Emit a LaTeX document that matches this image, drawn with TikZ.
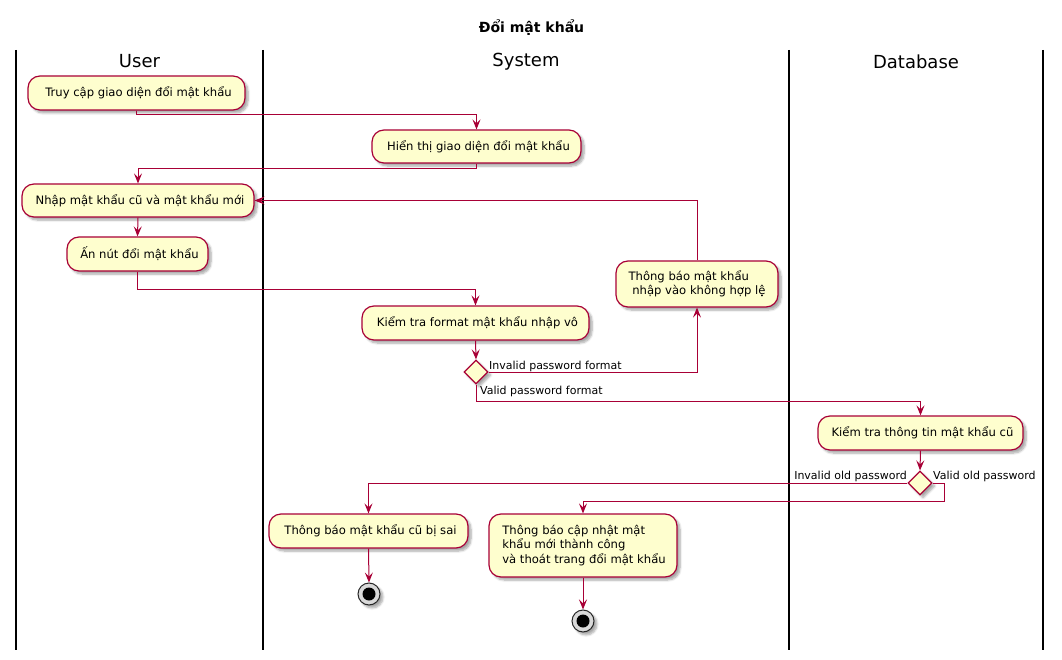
\documentclass[tikz,border=0pt]{standalone}
\usepackage{fontspec}
\setmainfont{DejaVu Sans}
\usetikzlibrary{arrows.meta,shapes.geometric,shadows.blur,calc}
\definecolor{umlred}{HTML}{A80036}
\definecolor{umlfill}{HTML}{FEFECE}
\newcommand{\lead}{\hspace*{4pt}}
\tikzset{
  act/.style={draw=umlred, fill=umlfill, line width=1.2pt, rounded corners=12pt,
    font=\fontsize{11.6}{14.2}\selectfont, inner sep=0pt,
    blur shadow={shadow xshift=3pt, shadow yshift=-3pt, shadow blur steps=6, shadow opacity=35}},
  dec/.style={diamond, aspect=1, draw=umlred, fill=umlfill, line width=1.2pt,
    minimum width=24pt, minimum height=24pt, inner sep=0pt,
    blur shadow={shadow xshift=3pt, shadow yshift=-3pt, shadow blur steps=6, shadow opacity=35}},
  stopnode/.style={circle, draw=black!85, line width=1pt, fill=black!15, minimum size=22pt, inner sep=0pt,
    path picture={\fill[black] (path picture bounding box.center) circle (6.5pt);},
    blur shadow={shadow xshift=3pt, shadow yshift=-3pt, shadow blur steps=6, shadow opacity=35}},
  flow/.style={draw=umlred, line width=1pt, -{Stealth[length=10pt,width=8pt,inset=4pt]}},
  lbl/.style={font=\fontsize{11}{13}\selectfont, inner sep=1pt},
  lane/.style={line width=1.6pt, black},
  hdr/.style={font=\fontsize{18}{21}\selectfont, inner sep=0pt},
}
\begin{document}
\begin{tikzpicture}[x=1pt,y=-1pt]
\useasboundingbox (0,0) rectangle (1062,660);
% title
\node[font=\bfseries\fontsize{14}{17}\selectfont] (title) at (531.5,28) {Đổi mật khẩu};
% lanes
\draw[lane] (16,50) -- (16,650);
\draw[lane] (263,50) -- (263,650);
\draw[lane] (789,50) -- (789,650);
\draw[lane] (1043,50) -- (1043,650);
\node[hdr] (hUser) at (139.5,61.5) {User};
\node[hdr] (hSystem) at (526,61.5) {System};
\node[hdr] (hDb) at (916,61.5) {Database};
% activities
\node[act, minimum width=217pt, minimum height=34pt] (b1) at (136.5,93) {\lead Truy cập giao diện đổi mật khẩu};
\node[act, minimum width=209pt, minimum height=33pt] (b2) at (476.5,146.5) {\lead Hiển thị giao diện đổi mật khẩu};
\node[act, minimum width=232pt, minimum height=33pt] (b3) at (138,200.5) {\lead Nhập mật khẩu cũ và mật khẩu mới};
\node[act, minimum width=141pt, minimum height=34pt] (b4) at (137.5,254) {\lead Ấn nút đổi mật khẩu};
\node[act, minimum width=227pt, minimum height=34pt] (b5) at (475.5,323) {\lead Kiểm tra format mật khẩu nhập vô};
\node[dec] (d1) at (476,372) {};
\node[act, minimum width=162pt, minimum height=46pt, align=left] (b6) at (697,284)
  {Thông báo mật khẩu\\\hspace*{3.8pt}nhập vào không hợp lệ};
\node[act, minimum width=205pt, minimum height=34pt] (b7) at (920.5,433) {\lead Kiểm tra thông tin mật khẩu cũ};
\node[dec] (d2) at (920,483) {};
\node[act, minimum width=199pt, minimum height=34pt] (b8) at (368.5,531) {\lead Thông báo mật khẩu cũ bị sai};
\node[act, minimum width=188pt, minimum height=63pt, align=left] (b9) at (583,545.5)
  {\hspace*{2pt}Thông báo cập nhật mật\\\hspace*{2pt}khẩu mới thành công\\\hspace*{2pt}và thoát trang đổi mật khẩu};
\node[stopnode] (e1) at (369,594) {};
\node[stopnode] (e2) at (583,621) {};
% flows
\draw[flow] (b1.south) -- ++(0,4) -| (b2.north);
\draw[flow] (b2.south) -- ++(0,5) -| (b3.north);
\draw[flow] (b3.south) -- (b4.north);
\draw[flow] (b4.south) -- ++(0,18) -| (b5.north);
\draw[flow] (b5.south) -- (d1.north);
\draw[flow] (d1.east) -| (b6.south);
\draw[flow] (b6.north) |- (b3.east);
\draw[flow] (d1.south) -- ++(0,17) -| (b7.north);
\draw[flow] (b7.south) -- (d2.north);
\draw[flow] (d2.west) -| (b8.north);
\draw[flow] (d2.east) -- ++(12,0) -- ++(0,18) -| (b9.north);
\draw[flow] (b8.south) -- (e1.north);
\draw[flow] (b9.south) -- (e2.north);
% guard labels
\node[lbl, anchor=west] (l1) at (488,366) {Invalid password format};
\node[lbl, anchor=west] (l2) at (479,391) {Valid password format};
\node[lbl, anchor=east] (l3) at (908,476) {Invalid old password};
\node[lbl, anchor=west] (l4) at (932,476) {Valid old password};
\end{tikzpicture}
\end{document}
